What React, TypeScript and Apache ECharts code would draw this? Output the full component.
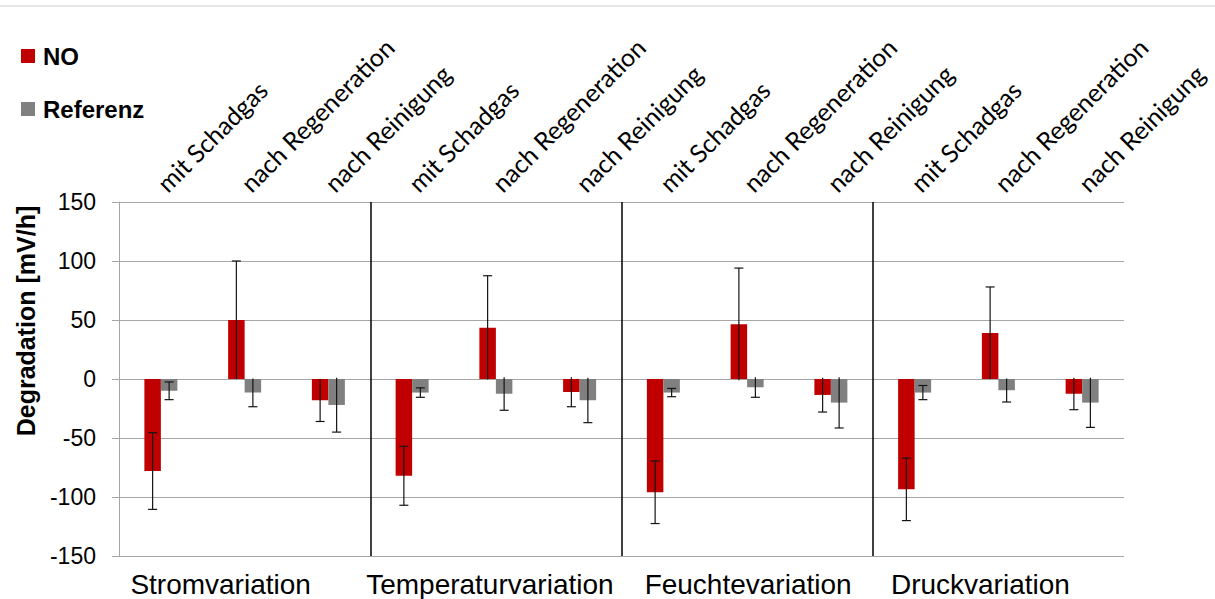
import React, { useEffect, useRef } from "react";
import * as echarts from "echarts";

// Phases of each test, repeated for every variation group
const categories = [
  "mit Schadgas", "nach Regeneration", "nach Reinigung",
  "mit Schadgas", "nach Regeneration", "nach Reinigung",
  "mit Schadgas", "nach Regeneration", "nach Reinigung",
  "mit Schadgas", "nach Regeneration", "nach Reinigung",
];
const groups = ["Stromvariation", "Temperaturvariation", "Feuchtevariation", "Druckvariation"];

// Degradation rates in mV/h and their standard deviations
const noValues = [-78, 50, -18, -82, 43.5, -11, -96, 46.5, -13.5, -93.5, 39, -12.5];
const noErrors = [32.5, 50, 18, 25, 44, 12.5, 26.5, 47.5, 14.5, 26.5, 39, 13.5];
const refValues = [-10, -11.5, -22, -11.5, -12.5, -18, -11.5, -7, -20, -11.5, -9.5, -20];
const refErrors = [7.5, 12, 23, 4, 14, 19, 3.5, 8.5, 21.5, 6, 10, 21];

const yMin = -150;
const yMax = 150;
const yStep = 50;

// horizontal nudge (px) of each group caption relative to its group centre
const groupLabelShift = [-24, -6, 1, -18];

const BAR_FRACTION = 0.197; // bar width relative to one category band
const RED = "#c00000";
const GREY = "#808080";
const AXIS_GREY = "#a6a6a6";
const SANS = "Liberation Sans, Arial, sans-serif";

function errorSeries(name: string, values: number[], errors: number[], side: number) {
  return {
    name: name + " Fehler",
    type: "custom",
    xAxisIndex: 0,
    yAxisIndex: 0,
    z: 5,
    silent: true,
    data: values.map((v, i) => [i, v, errors[i]]),
    renderItem: (params: any, api: any) => {
      const idx = api.value(0);
      const v = api.value(1);
      const e = api.value(2);
      const band = api.size([1, 0])[0];
      const barW = band * BAR_FRACTION;
      const cx = api.coord([idx, 0])[0] + (side * barW) / 2;
      const hiVal = v + e;
      const loVal = v - e;
      const yHi = api.coord([idx, hiVal])[1];
      const yLo = api.coord([idx, loVal])[1];
      const cap = 4.5;
      const stroke = { stroke: "#141414", lineWidth: 1.2 };
      const children: any[] = [
        { type: "line", shape: { x1: cx, y1: yHi, x2: cx, y2: yLo }, style: stroke },
      ];
      // caps sitting on the zero line are covered by it
      if (Math.abs(hiVal) > 2) {
        children.push({ type: "line", shape: { x1: cx - cap, y1: yHi, x2: cx + cap, y2: yHi }, style: stroke });
      }
      if (Math.abs(loVal) > 2) {
        children.push({ type: "line", shape: { x1: cx - cap, y1: yLo, x2: cx + cap, y2: yLo }, style: stroke });
      }
      return { type: "group", children };
    },
  };
}

export default function App() {
  const ref = useRef<HTMLDivElement>(null);

  useEffect(() => {
    if (!ref.current) return;
    const chart = echarts.init(ref.current, undefined, { renderer: "svg" });
    chart.setOption({
      animation: false,
      backgroundColor: "#ffffff",
      grid: { left: 119, right: 91, top: 202, bottom: 43, containLabel: false },
      legend: {
        orient: "vertical",
        left: 21,
        top: 44,
        padding: 0,
        itemWidth: 14,
        itemHeight: 14,
        itemGap: 29,
        icon: "rect",
        data: ["NO", "Referenz"],
        textStyle: {
          fontFamily: SANS,
          fontWeight: "bold",
          fontSize: 24,
          lineHeight: 24,
          color: "#000",
          padding: [0, 0, 0, 3],
        },
      },
      xAxis: [
        {
          type: "category",
          data: categories,
          position: "top",
          axisLine: { show: false },
          axisTick: { show: false },
          splitLine: { show: false },
          axisLabel: {
            interval: 0,
            rotate: 45,
            margin: 15,
            fontFamily: "Lato, 'Open Sans', sans-serif",
            fontSize: 25,
            color: "#000",
          },
        },
        {
          type: "category",
          data: groups.map((g, i) => ({
            value: g,
            textStyle: {
              padding: groupLabelShift[i] < 0 ? [0, -2 * groupLabelShift[i], 0, 0] : [0, 0, 0, 2 * groupLabelShift[i]],
            },
          })),
          position: "bottom",
          axisLine: { show: false },
          axisTick: { show: false },
          axisLabel: {
            interval: 0,
            margin: 14,
            fontFamily: SANS,
            fontSize: 28,
            color: "#000",
          },
          splitLine: {
            show: true,
            interval: 0,
            showMinLine: false,
            showMaxLine: false,
            lineStyle: { color: "#000", width: 1.5 },
          },
        },
      ],
      yAxis: {
        type: "value",
        min: yMin,
        max: yMax,
        interval: yStep,
        axisLine: { show: true, lineStyle: { color: AXIS_GREY, width: 1 } },
        axisTick: { show: true, length: 7, inside: false, lineStyle: { color: AXIS_GREY } },
        axisLabel: {
          margin: 23,
          fontFamily: SANS,
          fontSize: 23,
          color: "#000",
        },
        splitLine: { show: true, lineStyle: { color: AXIS_GREY, width: 1 } },
      },
      series: [
        {
          name: "NO",
          type: "bar",
          xAxisIndex: 0,
          yAxisIndex: 0,
          data: noValues,
          barWidth: (BAR_FRACTION * 100).toFixed(1) + "%",
          barGap: "0%",
          itemStyle: { color: RED },
        },
        {
          name: "Referenz",
          type: "bar",
          xAxisIndex: 0,
          yAxisIndex: 0,
          data: refValues,
          barWidth: (BAR_FRACTION * 100).toFixed(1) + "%",
          barGap: "0%",
          itemStyle: { color: GREY },
        },
        errorSeries("NO", noValues, noErrors, -1),
        errorSeries("Referenz", refValues, refErrors, 1),
      ],
      graphic: [
        {
          type: "line",
          shape: { x1: 0, y1: 6, x2: 1215, y2: 6 },
          style: { stroke: "#e6e6e6", lineWidth: 2 },
          silent: true,
        },
        {
          type: "text",
          x: 26,
          y: 321,
          rotation: Math.PI / 2,
          style: {
            text: "Degradation [mV/h]",
            fontFamily: SANS,
            fontWeight: "bold",
            fontSize: 25,
            fill: "#000",
            align: "center",
            verticalAlign: "middle",
          },
          silent: true,
        },
      ],
    });
    return () => chart.dispose();
  }, []);

  return (
    <div
      ref={ref}
      style={{ position: "fixed", left: 0, top: 0, width: 1215, height: 599, background: "#fff" }}
    />
  );
}
